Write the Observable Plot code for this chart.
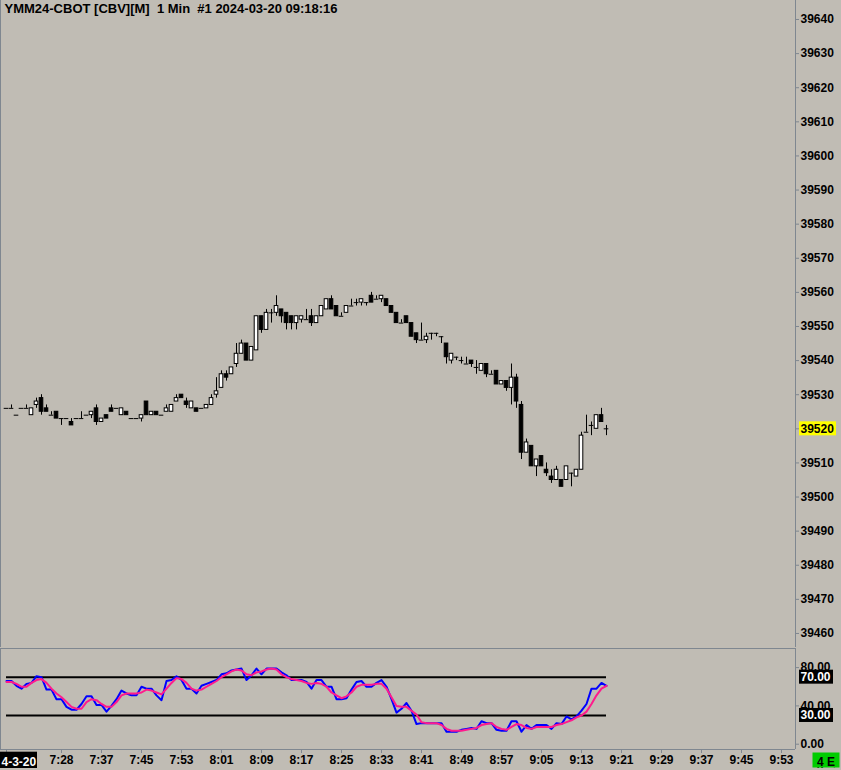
<!DOCTYPE html>
<html>
<head>
<meta charset="utf-8">
<script src="https://cdn.jsdelivr.net/npm/d3@7"></script>
<script src="https://cdn.jsdelivr.net/npm/@observablehq/plot@0.6"></script>
<style>
  html, body { margin: 0; padding: 0; background: #c0bcb4; overflow: hidden; }
  #chart { width: 841px; height: 770px; background: #c0bcb4; }
  #chart svg { display: block; }
</style>
</head>
<body>
<div id="chart"></div>
<script>
// ---------- data ----------
const title = "YMM24-CBOT [CBV][M]  1 Min  #1 2024-03-20 09:18:16";
const dateLabel = "4-3-20";
const statusLabel = "4 E";

const opens = [39526,39526,39524,39526,39526,39524,39527,39529,39526,39524,
  39525,39523,39523,39522,39523,39523,39524,39524,39526,39522,
  39524,39526,39526,39524,39525,39523,39523,39523,39528,39524,
  39525,39524,39525,39525,39528,39530,39528,39526,39526,39526,
  39526,39527,39530,39532,39536,39536,39539,39542,39545,39540,
  39543,39553,39549,39554,39554,39555,39554,39553,39551,39552,
  39552,39553,39551,39553,39555,39558,39556,39553,39554,39556,
  39557,39557,39557,39559,39558,39558,39558,39556,39554,39551,
  39553,39551,39548,39546,39546,39548,39548,39547,39545,39540,
  39541,39540,39539,39540,39538,39537,39539,39536,39537,39533,
  39534,39532,39535,39527,39513,39515,39509,39512,39508,39506,
  39505,39505,39505,39507,39506,39508,39519,39521,39520,39524,
  39520];
const highs = [39526,39527,39524,39526,39527,39526,39529,39530,39527,39525,
  39525,39523,39523,39523,39523,39525,39524,39525,39527,39523,
  39524,39527,39526,39526,39525,39523,39523,39524,39528,39525,
  39525,39524,39527,39527,39530,39530,39529,39528,39526,39526,
  39527,39530,39535,39537,39537,39538,39545,39546,39545,39544,
  39553,39553,39555,39555,39559,39555,39554,39553,39553,39553,
  39555,39555,39553,39556,39558,39559,39556,39554,39556,39558,
  39558,39558,39557,39560,39559,39559,39558,39556,39554,39552,
  39553,39551,39548,39551,39548,39548,39548,39547,39545,39542,
  39541,39541,39541,39540,39540,39539,39539,39537,39537,39534,
  39534,39539,39536,39528,39517,39515,39511,39512,39510,39508,
  39509,39505,39509,39507,39508,39519,39524,39522,39524,39526,
  39521];
const lows = [39526,39526,39524,39526,39526,39524,39526,39524,39525,39524,
  39523,39521,39523,39521,39523,39523,39524,39523,39521,39522,
  39523,39525,39526,39524,39524,39523,39523,39522,39524,39524,
  39524,39524,39525,39525,39528,39529,39526,39526,39525,39526,
  39526,39527,39529,39532,39534,39536,39538,39542,39540,39540,
  39543,39548,39549,39551,39553,39551,39549,39549,39549,39551,
  39552,39550,39551,39553,39555,39555,39553,39553,39554,39556,
  39556,39556,39556,39557,39558,39557,39556,39554,39551,39551,
  39551,39547,39545,39546,39545,39546,39547,39545,39539,39539,
  39540,39539,39539,39538,39536,39537,39535,39536,39533,39533,
  39531,39527,39526,39511,39513,39509,39506,39509,39506,39504,
  39505,39503,39505,39503,39506,39508,39519,39518,39520,39522,
  39518];
const closes = [39526,39526,39524,39526,39526,39526,39528,39525,39525,39524,
  39523,39523,39523,39521,39523,39523,39524,39525,39522,39523,
  39523,39525,39526,39526,39524,39523,39523,39524,39524,39525,
  39524,39524,39526,39527,39529,39529,39527,39528,39525,39526,
  39527,39529,39531,39536,39535,39538,39542,39545,39540,39544,
  39553,39549,39554,39554,39556,39553,39551,39551,39553,39553,
  39552,39551,39553,39556,39558,39555,39553,39553,39556,39556,
  39557,39558,39557,39557,39558,39559,39556,39554,39551,39551,
  39551,39547,39546,39546,39547,39548,39548,39547,39541,39542,
  39541,39540,39539,39539,39538,39539,39536,39536,39533,39534,
  39532,39535,39528,39513,39516,39509,39511,39509,39507,39505,
  39508,39503,39509,39507,39508,39518,39519,39521,39524,39522,
  39520];

// stochastic-type oscillator: fast line (blue) and slow line (pink)
const stochK = [66,66,61,58,63,64,71,70,57,57,
  47,47,39,36,36,42,50,50,41,41,
  34,40,47,56,53,51,51,60,58,58,
  51,46,66,67,71,67,58,58,53,61,
  63,65,67,73,74,77,78,79,67,72,
  79,73,79,79,79,75,72,67,67,67,
  65,58,67,67,60,60,47,47,48,57,
  65,66,60,60,64,67,60,47,33,37,
  43,35,21,22,22,22,22,22,13,13,
  13,15,16,17,16,24,22,22,15,14,
  14,24,24,13,20,16,20,20,20,16,
  22,21,29,26,29,35,42,58,58,64,
  61];
const stochD = [65,65,63,60,60,64,67,68,64,58,
  53,49,44,39,37,37,44,47,46,42,
  39,39,44,51,53,53,53,54,57,56,
  54,52,58,64,69,68,64,58,56,57,
  60,63,66,70,73,76,78,77,73,72,
  75,76,78,79,78,73,70,68,67,66,
  64,63,64,63,60,54,51,48,50,54,
  60,62,62,62,63,63,58,49,40,39,
  39,35,31,23,22,22,22,20,16,14,
  14,14,15,16,17,20,21,22,18,16,
  15,18,21,20,17,16,18,18,18,18,
  20,21,23,25,28,30,34,42,51,58,
  61];

const priceTicks = [39460,39470,39480,39490,39500,39510,39520,39530,39540,39550,
  39560,39570,39580,39590,39600,39610,39620,39630,39640];
const oscTicks = [0, 40, 80];
const oscLevels = [70, 30];
const timeTickIndex = [11,19,27,35,43,51,59,67,75,83,91,99,107,115,123,131,139,147,155];
const timeLabels = ["7:28","7:37","7:45","7:53","8:01","8:09","8:17","8:25","8:33","8:41",
  "8:49","8:57","9:05","9:13","9:21","9:29","9:37","9:45","9:53"];

// ---------- build ----------
const BG = "#c0bcb4", LINE = "#7f8790";
const FONT = "'Liberation Sans', Arial, Helvetica, sans-serif";
const bars = opens.map((o, i) => ({k: i, o, h: highs[i], l: lows[i], c: closes[i]}));
const osc = stochK.map((v, i) => ({k: i, K: v, D: stochD[i]}));
const first = bars[0], last = bars[bars.length - 1];
const xDomain = [-1.2, 157.8];
const yPrice = [39455.89, 39645.57];
const yOsc = [-5.53, 99.94];
const half = 0.36;
const styleBase = {background: BG, color: "black", fontFamily: FONT, fontSize: "12px", fontWeight: "bold"};

function el(tag, attrs, txt) {
  const e = document.createElementNS("http://www.w3.org/2000/svg", tag);
  for (const [k, v] of Object.entries(attrs)) e.setAttribute(k, v);
  if (txt != null) e.textContent = txt;
  return e;
}
// box behind a right-axis value tag
const tagBoxes = (values, fill, w, h) => (index, scales, vals, dims) => {
  const g = el("g", {});
  const x0 = dims.width - dims.marginRight;
  for (const v of values) {
    g.appendChild(el("rect", {x: x0 + 4, y: scales.y(v) - h / 2, width: w, height: h, fill}));
  }
  return g;
};

const topChart = Plot.plot({
  width: 841, height: 647,
  marginLeft: 0, marginRight: 46, marginTop: 0, marginBottom: 0,
  style: styleBase,
  x: {domain: xDomain, axis: null},
  y: {domain: yPrice},
  marks: [
    Plot.ruleX([xDomain[0], xDomain[1]], {stroke: LINE}),
    tagBoxes([last.c], "#ffff00", 37, 14),
    Plot.axisY(priceTicks, {anchor: "right", tickSize: 3, tickPadding: 2, stroke: LINE, fill: "black", tickFormat: d => String(d)}),
    Plot.ruleX(bars, {x: "k", y1: "l", y2: "h", stroke: "black"}),
    Plot.rect(bars.filter(d => d.c > d.o), {x1: d => d.k - half, x2: d => d.k + half, y1: "o", y2: "c", fill: "white", stroke: "black"}),
    Plot.rect(bars.filter(d => d.c < d.o), {x1: d => d.k - half, x2: d => d.k + half, y1: "o", y2: "c", fill: "black", stroke: "black"}),
    Plot.ruleY(bars.filter(d => d.c === d.o), {y: "c", x1: d => d.k - half - 0.1, x2: d => d.k + half + 0.1, stroke: "black"}),
    Plot.text([title], {frameAnchor: "top-left", text: d => d.replace(/ /g, "\u00a0"), dx: 4, dy: 3, lineAnchor: "top", fontSize: 13, fill: "black"})
  ]
});

const bottomChart = Plot.plot({
  width: 841, height: 123,
  marginLeft: 0, marginRight: 46, marginTop: 1, marginBottom: 21,
  style: styleBase,
  x: {domain: xDomain},
  y: {domain: yOsc},
  marks: [
    Plot.ruleX([xDomain[0], xDomain[1]], {stroke: LINE}),
    Plot.ruleY([yOsc[0], yOsc[1]], {stroke: LINE}),
    Plot.ruleY(oscLevels, {x1: () => first.k, x2: () => last.k, stroke: "black", strokeWidth: 2}),
    Plot.line(osc, {x: "k", y: "K", stroke: "#0000ff", strokeWidth: 2}),
    Plot.line(osc, {x: "k", y: "D", stroke: "#ff1a8c", strokeWidth: 2}),
    Plot.axisY(oscTicks, {anchor: "right", tickSize: 3, tickPadding: 2, stroke: LINE, fill: "black", tickFormat: d3.format(".2f")}),
    tagBoxes(oscLevels, "black", 34, 14),
    Plot.text(oscLevels, {x: () => xDomain[1], y: d => d, text: d => d3.format(".2f")(d), dx: 5, textAnchor: "start", fill: "white"}),
    Plot.axisX([first.k, ...timeTickIndex], {anchor: "bottom", tickSize: 4, tickPadding: 2, stroke: LINE, fill: "black",
      tickFormat: d => d === first.k ? "" : timeLabels[timeTickIndex.indexOf(d)]}),
    (index, scales, vals, dims) => {
      const g = el("g", {});
      const yb = dims.height - dims.marginBottom;
      g.appendChild(el("rect", {x: 0, y: yb + 2.7, width: 37, height: 16.3, fill: "black"}));
      g.appendChild(el("text", {x: 1.5, y: yb + 16.5, fill: "white", "text-anchor": "start"}, dateLabel));
      g.appendChild(el("rect", {x: dims.width - 28.5, y: yb + 3.5, width: 27, height: 15, fill: "#00cc00"}));
      g.appendChild(el("text", {x: dims.width - 15, y: yb + 16.5, fill: "black", "text-anchor": "middle"}, statusLabel));
      return g;
    }
  ]
});

const root = document.getElementById("chart");
root.appendChild(topChart);
root.appendChild(bottomChart);
</script>
</body>
</html>
